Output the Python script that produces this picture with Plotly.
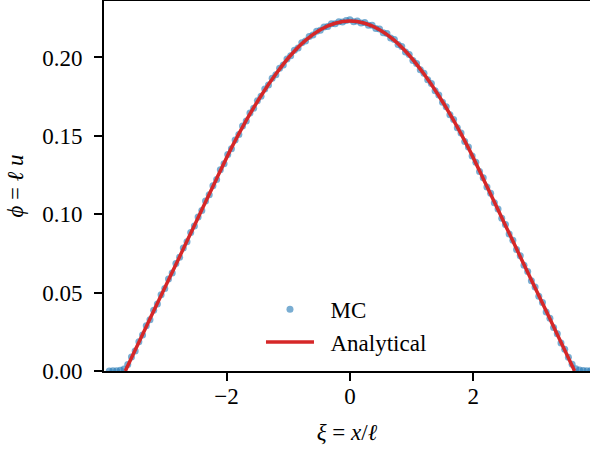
import plotly.graph_objects as go

# Monte Carlo samples
mc_xi = [-3.90, -3.84, -3.78, -3.72, -3.66, -3.60, -3.54, -3.48, -3.42, -3.36,
         -3.30, -3.24, -3.18, -3.12, -3.06, -3.00, -2.94, -2.88, -2.82, -2.76,
         -2.70, -2.64, -2.58, -2.52, -2.46, -2.40, -2.34, -2.28, -2.22, -2.16,
         -2.10, -2.04, -1.98, -1.92, -1.86, -1.80, -1.74, -1.68, -1.62, -1.56,
         -1.50, -1.44, -1.38, -1.32, -1.26, -1.20, -1.14, -1.08, -1.02, -0.96,
         -0.90, -0.84, -0.78, -0.72, -0.66, -0.60, -0.54, -0.48, -0.42, -0.36,
         -0.30, -0.24, -0.18, -0.12, -0.06, 0.00, 0.06, 0.12, 0.18, 0.24,
         0.30, 0.36, 0.42, 0.48, 0.54, 0.60, 0.66, 0.72, 0.78, 0.84,
         0.90, 0.96, 1.02, 1.08, 1.14, 1.20, 1.26, 1.32, 1.38, 1.44,
         1.50, 1.56, 1.62, 1.68, 1.74, 1.80, 1.86, 1.92, 1.98, 2.04,
         2.10, 2.16, 2.22, 2.28, 2.34, 2.40, 2.46, 2.52, 2.58, 2.64,
         2.70, 2.76, 2.82, 2.88, 2.94, 3.00, 3.06, 3.12, 3.18, 3.24,
         3.30, 3.36, 3.42, 3.48, 3.54, 3.60, 3.66, 3.72, 3.78, 3.84, 3.90]
mc_phi = [0.0000, 0.0001, 0.0002, 0.0005, 0.0013, 0.0041, 0.0090, 0.0128, 0.0187, 0.0229,
          0.0288, 0.0327, 0.0388, 0.0427, 0.0486, 0.0526, 0.0587, 0.0625, 0.0686, 0.0726,
          0.0785, 0.0824, 0.0884, 0.0925, 0.0983, 0.1023, 0.1084, 0.1124, 0.1182, 0.1222,
          0.1283, 0.1322, 0.1381, 0.1418, 0.1474, 0.1509, 0.1562, 0.1594, 0.1645, 0.1676,
          0.1724, 0.1752, 0.1798, 0.1824, 0.1867, 0.1890, 0.1931, 0.1952, 0.1990, 0.2010,
          0.2046, 0.2061, 0.2093, 0.2105, 0.2134, 0.2143, 0.2167, 0.2174, 0.2194, 0.2197,
          0.2215, 0.2215, 0.2228, 0.2226, 0.2235, 0.2240, 0.2228, 0.2233, 0.2220, 0.2223,
          0.2206, 0.2206, 0.2185, 0.2182, 0.2158, 0.2152, 0.2124, 0.2114, 0.2083, 0.2070,
          0.2035, 0.2019, 0.1981, 0.1961, 0.1921, 0.1899, 0.1857, 0.1833, 0.1788, 0.1761,
          0.1714, 0.1685, 0.1635, 0.1604, 0.1552, 0.1518, 0.1464, 0.1428, 0.1371, 0.1332,
          0.1272, 0.1232, 0.1173, 0.1133, 0.1073, 0.1033, 0.0974, 0.0934, 0.0874, 0.0834,
          0.0775, 0.0735, 0.0675, 0.0635, 0.0576, 0.0536, 0.0476, 0.0437, 0.0377, 0.0337,
          0.0277, 0.0238, 0.0178, 0.0138, 0.0088, 0.0043, 0.0014, 0.0006, 0.0003, 0.0001, 0.0001]

# Analytical curve
ana_xi = [-3.64, -3.60, -3.36, -3.12, -2.88, -2.64, -2.40, -2.16, -1.92, -1.68,
          -1.44, -1.20, -0.96, -0.72, -0.48, -0.24, 0.00, 0.24, 0.48, 0.72,
          0.96, 1.20, 1.44, 1.68, 1.92, 2.16, 2.40, 2.64, 2.88, 3.12, 3.36, 3.60, 3.64]
ana_phi = [0.0000, 0.0034, 0.0233, 0.0432, 0.0630, 0.0829, 0.1028, 0.1227, 0.1423, 0.1599,
           0.1756, 0.1894, 0.2014, 0.2109, 0.2177, 0.2218, 0.2232, 0.2218, 0.2177, 0.2109,
           0.2014, 0.1894, 0.1756, 0.1599, 0.1423, 0.1227, 0.1028, 0.0829, 0.0630, 0.0432,
           0.0233, 0.0034, 0.0000]

x_ticks = [-2, 0, 2]
y_ticks = [0.00, 0.05, 0.10, 0.15, 0.20]

FONT = "Liberation Serif"
NB = "\u00a0\u00a0"

fig = go.Figure()
fig.add_trace(go.Scatter(
    x=mc_xi, y=mc_phi, mode="markers", name=NB + "MC",
    marker=dict(size=7, color="rgba(31,119,180,0.6)", line=dict(width=0)),
))
fig.add_trace(go.Scatter(
    x=ana_xi, y=ana_phi, mode="lines", name=NB + "Analytical",
    line=dict(color="#d62728", width=3.5, shape="spline", smoothing=0.6),
))

axis_common = dict(
    showgrid=False, zeroline=False, showline=True, linecolor="black", linewidth=2,
    ticks="outside", ticklen=8, tickwidth=2, tickcolor="black", automargin=False,
    tickfont=dict(family=FONT, size=23, color="black"),
)
fig.update_xaxes(range=[-3.985, 3.89], tickvals=x_ticks, ticktext=["\u22122", "0", "2"],
                 mirror=True, ticklabelstandoff=-5,
                 title=dict(text="<i>ξ</i> = <i>x</i>/<i>ℓ</i>",
                            font=dict(family=FONT, size=23, color="black"), standoff=16),
                 **axis_common)
fig.update_yaxes(range=[0, 0.236], tickvals=y_ticks, tickformat=".2f",
                 ticklabelstandoff=7,
                 title=dict(text="<i>ϕ</i> = <i>ℓ u</i>",
                            font=dict(family=FONT, size=23, color="black"), standoff=12),
                 **axis_common)

fig.update_layout(
    width=590, height=451,
    margin=dict(l=104, r=0, t=1, b=80, autoexpand=False),
    plot_bgcolor="white", paper_bgcolor="white",
    font=dict(family=FONT, size=23, color="black"),
    legend=dict(x=0.323, y=0.225, xanchor="left", yanchor="top",
                bgcolor="rgba(0,0,0,0)", borderwidth=0,
                font=dict(family=FONT, size=23, color="black"),
                itemwidth=48, tracegroupgap=0),
    showlegend=True,
)

fig.write_html("out.html", config={"displayModeBar": False},
               post_script="document.body.style.margin='0';document.body.style.overflow='hidden';")
